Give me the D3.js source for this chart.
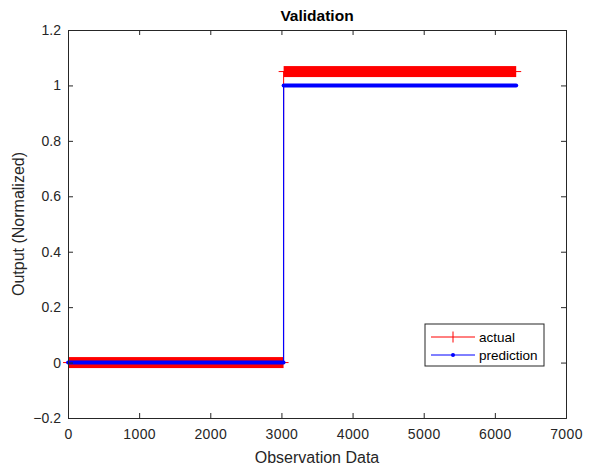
<!DOCTYPE html>
<html>
<head>
<meta charset="utf-8">
<script src="https://cdn.jsdelivr.net/npm/d3@7.9.0/dist/d3.min.js"></script>
<style>
  body { margin: 0; background: #fff; }
  svg { font-family: "Liberation Sans", Arial, sans-serif; }
  .tick text { fill: #262626; }
</style>
</head>
<body>
<svg id="chart" width="590" height="470"></svg>
<script>
// observation ranges where each series holds a constant value
const actualFrom = [1, 3031];
const actualTo = [3030, 6300];
const actualValue = [0, 1.05];

const predFrom = [1, 3031];
const predTo = [3030, 6300];
const predValue = [0, 1.0];

const xTicks = [0, 1000, 2000, 3000, 4000, 5000, 6000, 7000];
const yTicks = [-0.2, 0, 0.2, 0.4, 0.6, 0.8, 1, 1.2];
const legendLabels = ['actual', 'prediction'];

const width = 590, height = 470;
const margin = { top: 30, right: 24, bottom: 52, left: 68 };
const axisColor = '#262626';

const svg = d3.select('#chart');

const x = d3.scaleLinear().domain([0, 7000]).range([margin.left, width - margin.right]);
const y = d3.scaleLinear().domain([-0.2, 1.2]).range([height - margin.bottom, margin.top]);

const plot = svg.append('g');

// build run objects
const actualRuns = actualFrom.map((f, i) => ({ from: f, to: actualTo[i], value: actualValue[i] }));
const predRuns = predFrom.map((f, i) => ({ from: f, to: predTo[i], value: predValue[i] }));

function stepPoints(runs) {
  const pts = [];
  runs.forEach(r => { pts.push([r.from, r.value]); pts.push([r.to, r.value]); });
  return pts;
}
const line = d3.line().x(d => x(d[0])).y(d => y(d[1]));

// actual: red line with dense '+' markers
plot.append('path')
  .datum(stepPoints(actualRuns))
  .attr('d', line)
  .attr('fill', 'none')
  .attr('stroke', '#ff0000')
  .attr('stroke-width', 1);

// vertical arms of the packed '+' markers
plot.selectAll('rect.actual-band')
  .data(actualRuns)
  .join('rect')
  .attr('class', 'actual-band')
  .attr('x', d => x(d.from))
  .attr('width', d => x(d.to) - x(d.from))
  .attr('y', d => y(d.value) - 5.5)
  .attr('height', 11)
  .attr('fill', '#ff0000');

// horizontal arms at the run ends
plot.selectAll('line.actual-arm')
  .data(actualRuns)
  .join('line')
  .attr('class', 'actual-arm')
  .attr('x1', d => x(d.from) - 5)
  .attr('x2', d => x(d.to) + 5)
  .attr('y1', d => y(d.value))
  .attr('y2', d => y(d.value))
  .attr('stroke', '#ff0000')
  .attr('stroke-width', 1);

// prediction: blue line with '.' markers
plot.selectAll('line.pred-band')
  .data(predRuns)
  .join('line')
  .attr('class', 'pred-band')
  .attr('x1', d => x(d.from))
  .attr('x2', d => x(d.to))
  .attr('y1', d => y(d.value))
  .attr('y2', d => y(d.value))
  .attr('stroke', '#0000ff')
  .attr('stroke-width', 4)
  .attr('stroke-linecap', 'round');

plot.append('path')
  .datum(stepPoints(predRuns))
  .attr('d', line)
  .attr('fill', 'none')
  .attr('stroke', '#0000ff')
  .attr('stroke-width', 1.2);

// axes box
const axes = svg.append('g');
const x0 = margin.left, x1 = width - margin.right;
const y0 = height - margin.bottom, y1 = margin.top;

const bottomAxis = axes.append('g')
  .attr('transform', `translate(0,${y0})`)
  .call(d3.axisBottom(x).tickValues(xTicks).tickSize(-5).tickPadding(11).tickFormat(d3.format('d')));
const topAxis = axes.append('g')
  .attr('transform', `translate(0,${y1})`)
  .call(d3.axisTop(x).tickValues(xTicks).tickSize(-5).tickFormat(''));
const leftAxis = axes.append('g')
  .attr('transform', `translate(${x0},0)`)
  .call(d3.axisLeft(y).tickValues(yTicks).tickSize(-5).tickPadding(7).tickFormat(d => d3.format('~g')(d)));
const rightAxis = axes.append('g')
  .attr('transform', `translate(${x1},0)`)
  .call(d3.axisRight(y).tickValues(yTicks).tickSize(-5).tickFormat(''));

[bottomAxis, topAxis, leftAxis, rightAxis].forEach(g => {
  g.select('.domain').attr('stroke', axisColor);
  g.selectAll('.tick line').attr('stroke', axisColor);
  g.selectAll('.tick text').attr('font-size', 14).attr('font-family', '"Liberation Sans", Arial, sans-serif');
});
bottomAxis.selectAll('.tick text').attr('letter-spacing', 0.4);

// title and labels
svg.append('text')
  .attr('x', (x0 + x1) / 2)
  .attr('y', 21)
  .attr('text-anchor', 'middle')
  .attr('font-size', 15.5)
  .attr('font-weight', 'bold')
  .attr('fill', '#000')
  .text('Validation');

svg.append('text')
  .attr('x', (x0 + x1) / 2)
  .attr('y', 463)
  .attr('text-anchor', 'middle')
  .attr('font-size', 16)
  .attr('fill', axisColor)
  .text('Observation Data');

svg.append('text')
  .attr('transform', `translate(24,${(y0 + y1) / 2}) rotate(-90)`)
  .attr('text-anchor', 'middle')
  .attr('font-size', 16)
  .attr('fill', axisColor)
  .text('Output (Normalized)');

// legend
const legend = svg.append('g').attr('transform', 'translate(425,324)');
legend.append('rect')
  .attr('width', 119).attr('height', 42)
  .attr('fill', '#fff').attr('stroke', axisColor).attr('stroke-width', 1);

const legendColors = ['#ff0000', '#0000ff'];
const items = legend.selectAll('g.item')
  .data(legendLabels)
  .join('g')
  .attr('class', 'item')
  .attr('transform', (d, i) => `translate(0,${13 + i * 18})`);

items.append('line')
  .attr('x1', 6).attr('x2', 50)
  .attr('stroke', (d, i) => legendColors[i]).attr('stroke-width', 1);
items.filter((d, i) => i === 0).append('line')
  .attr('x1', 28).attr('x2', 28).attr('y1', -5.5).attr('y2', 5.5)
  .attr('stroke', legendColors[0]).attr('stroke-width', 1);
items.filter((d, i) => i === 1).append('circle')
  .attr('cx', 28).attr('r', 2).attr('fill', legendColors[1]);

items.append('text')
  .attr('x', 54)
  .attr('dy', '0.35em')
  .attr('font-size', 13.5)
  .attr('fill', '#000')
  .text(d => d);
</script>
</body>
</html>
